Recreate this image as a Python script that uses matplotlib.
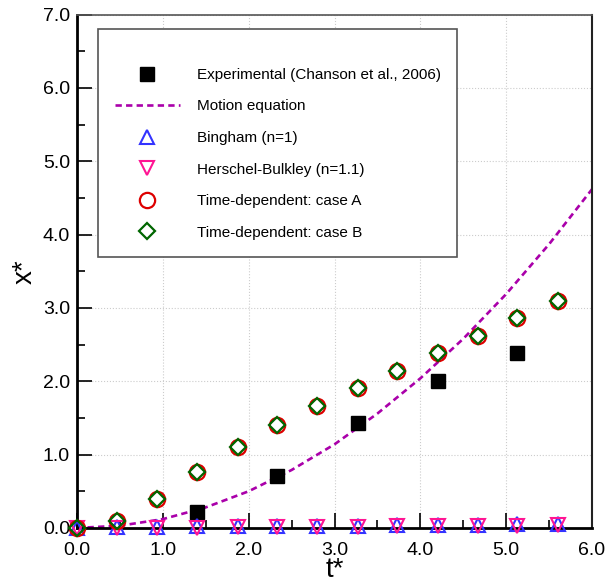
import matplotlib
matplotlib.use("Agg")
import matplotlib.pyplot as plt
from matplotlib.ticker import MultipleLocator, FormatStrFormatter

plt.rcParams['font.family'] = ['Liberation Sans', 'DejaVu Sans']

# Data
t_sim = [0.0, 0.47, 0.93, 1.40, 1.87, 2.33, 2.80, 3.27, 3.73, 4.20, 4.67, 5.13, 5.60]
x_caseA = [0.0, 0.095, 0.40, 0.76, 1.10, 1.40, 1.66, 1.91, 2.14, 2.38, 2.62, 2.86, 3.10]
x_caseB = [0.0, 0.095, 0.40, 0.76, 1.10, 1.40, 1.66, 1.91, 2.14, 2.38, 2.62, 2.86, 3.10]
x_bingham = [0.0, 0.01, 0.015, 0.02, 0.02, 0.025, 0.03, 0.03, 0.035, 0.04, 0.045, 0.05, 0.06]
x_hb = [0.0, 0.0, 0.005, 0.005, 0.01, 0.01, 0.015, 0.015, 0.02, 0.02, 0.025, 0.03, 0.035]

t_exp = [1.40, 2.33, 3.27, 4.20, 5.13]
x_exp = [0.22, 0.71, 1.43, 2.00, 2.38]

t_motion = [0.0, 0.5, 1.0, 1.5, 2.0, 2.5, 3.0, 3.5, 4.0, 4.5, 5.0, 5.5, 6.0]
x_motion = [0.0, 0.03, 0.12, 0.28, 0.50, 0.79, 1.14, 1.56, 2.04, 2.58, 3.19, 3.87, 4.62]

labels = ["Experimental (Chanson et al., 2006)", "Motion equation", "Bingham (n=1)",
          "Herschel-Bulkley (n=1.1)", "Time-dependent: case A", "Time-dependent: case B"]

fig = plt.figure(figsize=(6.06, 5.84), dpi=100)
ax = fig.add_axes([0.127, 0.096, 0.850, 0.879])

ax.plot(t_motion, x_motion, linestyle=(0, (2.4, 1.6)), color='#aa00aa', lw=1.9,
        label=labels[1], zorder=2)
ax.plot(t_exp, x_exp, 's', color='black', ms=10, label=labels[0], zorder=3,
        clip_on=False)
ax.plot(t_sim, x_bingham, '^', mfc='none', mec='#3333ff', mew=1.5, ms=10.5,
        label=labels[2], zorder=4, clip_on=False)
ax.plot(t_sim, x_hb, 'v', mfc='none', mec='#ff1493', mew=1.5, ms=10.5,
        label=labels[3], zorder=4, clip_on=False)
ax.plot(t_sim, x_caseA, 'o', mfc='none', mec='#dd0000', mew=1.6, ms=11,
        label=labels[4], zorder=5, clip_on=False)
ax.plot(t_sim, x_caseB, 'D', mfc='none', mec='#006600', mew=1.6, ms=8.5,
        label=labels[5], zorder=6, clip_on=False)

ax.set_xlim(0, 6)
ax.set_ylim(0, 7)
ax.xaxis.set_major_locator(MultipleLocator(1.0))
ax.xaxis.set_minor_locator(MultipleLocator(0.5))
ax.yaxis.set_major_locator(MultipleLocator(1.0))
ax.yaxis.set_minor_locator(MultipleLocator(0.5))
ax.xaxis.set_major_formatter(FormatStrFormatter('%.1f'))
ax.yaxis.set_major_formatter(FormatStrFormatter('%.1f'))
ax.tick_params(which='both', direction='in', labelsize=14, width=1.2)
ax.tick_params(which='major', length=11)
ax.tick_params(which='minor', length=6)
ax.tick_params(axis='x', which='major', pad=10)
ax.tick_params(axis='y', which='major', pad=5)
ax.grid(True, which='major', linestyle=':', color='#cccccc', lw=0.8)

ax.spines['left'].set_linewidth(2.0)
ax.spines['bottom'].set_linewidth(2.0)
ax.spines['top'].set_color('#555555')
ax.spines['right'].set_color('#222222')
ax.spines['top'].set_linewidth(1.2)
ax.spines['right'].set_linewidth(1.5)

ax.set_xlabel('t*', fontsize=20, labelpad=-1)
ax.set_ylabel('x*', fontsize=20, labelpad=4)

handles, labs = ax.get_legend_handles_labels()
order = [1, 0, 2, 3, 4, 5]
leg = ax.legend([handles[i] for i in order], [labs[i] for i in order],
                loc='upper left', bbox_to_anchor=(0.041, 0.971), borderaxespad=0,
                fontsize=11, frameon=True, fancybox=False, edgecolor='#555555',
                framealpha=1, handlelength=4.25, handletextpad=1.1,
                labelspacing=1.15, borderpad=1.1, title=' ', title_fontsize=3)
leg.get_frame().set_linewidth(1.2)

fig.savefig('out.png', dpi=100)
